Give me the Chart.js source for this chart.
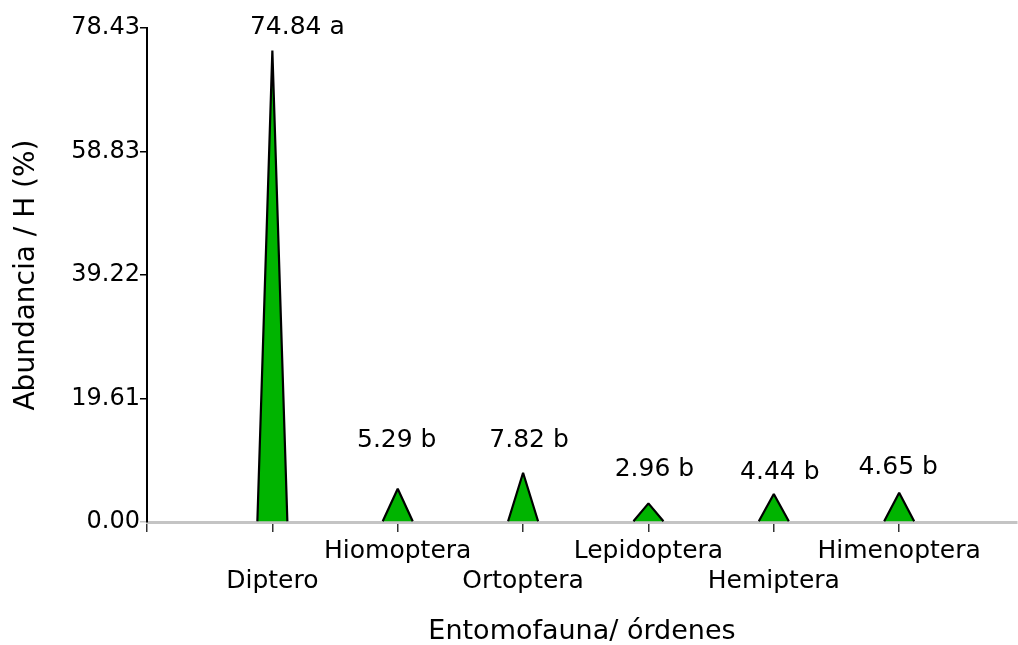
<!DOCTYPE html>
<html>
<head>
<meta charset="utf-8">
<script src="https://cdn.jsdelivr.net/npm/chart.js@4/dist/chart.umd.min.js"></script>
<style>
  html, body { margin: 0; padding: 0; background: #ffffff; }
  #wrap { width: 1018px; height: 645px; position: relative; }
</style>
</head>
<body>
<div id="wrap"><canvas id="chart"></canvas></div>
<script>
// Insect orders and their relative abundance (%)
const orders = ['Diptero', 'Hiomoptera', 'Ortoptera', 'Lepidoptera', 'Hemiptera', 'Himenoptera'];
const abundance = [74.84, 5.29, 7.82, 2.96, 4.44, 4.65];
const groups = ['a', 'b', 'b', 'b', 'b', 'b'];
const yTicks = [0, 19.61, 39.22, 58.83, 78.43];

// Value-label nudges, in pixels (horizontal shift, lift above the peak)
const labelShiftX = [25, -1, 6, 6, 6, -1];
const labelLift = [23, 48, 32, 34, 22, 25];

const FONT = 'DejaVu Sans';
const INK = '#000000';

// Draws each bar as a green triangle rising from the base to the value
const trianglePeaks = {
  id: 'trianglePeaks',
  afterDatasetsDraw(chart) {
    const ctx = chart.ctx;
    const meta = chart.getDatasetMeta(0);
    ctx.save();
    meta.data.forEach((bar) => {
      const p = bar.getProps(['x', 'y', 'base', 'width'], true);
      const half = p.width / 2;
      ctx.beginPath();
      ctx.moveTo(p.x - half, p.base);
      ctx.lineTo(p.x, p.y);
      ctx.lineTo(p.x + half, p.base);
      ctx.closePath();
      ctx.fillStyle = '#00b400';
      ctx.fill();
      ctx.beginPath();
      ctx.moveTo(p.x - half, p.base);
      ctx.lineTo(p.x, p.y);
      ctx.lineTo(p.x + half, p.base);
      ctx.lineWidth = 2.2;
      ctx.lineJoin = 'bevel';
      ctx.strokeStyle = '#000000';
      ctx.stroke();
    });
    ctx.restore();
  }
};

// Writes "value group" above each peak
const peakLabels = {
  id: 'peakLabels',
  afterDraw(chart) {
    const ctx = chart.ctx;
    const meta = chart.getDatasetMeta(0);
    ctx.save();
    ctx.font = '25px "' + FONT + '"';
    ctx.fillStyle = INK;
    ctx.textAlign = 'center';
    ctx.textBaseline = 'middle';
    meta.data.forEach((bar, i) => {
      const p = bar.getProps(['x', 'y'], true);
      ctx.fillText(abundance[i].toFixed(2) + ' ' + groups[i], p.x + labelShiftX[i], p.y - labelLift[i]);
    });
    ctx.restore();
  }
};

new Chart(document.getElementById('chart'), {
  type: 'bar',
  data: {
    datasets: [{
      data: abundance.map((v, i) => ({ x: i + 1, y: v })),
      backgroundColor: 'rgba(0,0,0,0)',
      borderWidth: 0,
      barThickness: 30
    }]
  },
  options: {
    responsive: true,
    maintainAspectRatio: false,
    animation: false,
    events: [],
    layout: { padding: { top: 28, right: 1, left: 0, bottom: 0 } },
    plugins: {
      legend: { display: false },
      tooltip: { enabled: false }
    },
    scales: {
      x: {
        type: 'linear',
        min: 0,
        max: 6.94,
        offset: false,
        afterBuildTicks(scale) {
          scale.ticks = [0, 1, 2, 3, 4, 5, 6].map(v => ({ value: v }));
        },
        afterFit(scale) { scale.height = 123; },
        grid: {
          offset: false,
          drawOnChartArea: false,
          drawTicks: true,
          tickLength: 10,
          color: '#333333',
          lineWidth: 1.5
        },
        border: { display: true, color: '#c4c4c4', width: 3 },
        ticks: {
          autoSkip: false,
          maxRotation: 0,
          minRotation: 0,
          padding: 4,
          color: INK,
          font: { family: FONT, size: 25, lineHeight: 1.2 },
          callback(value) {
            const i = Math.round(value) - 1;
            if (i < 0 || i >= orders.length) return '';
            // alternate rows so neighbouring names do not collide
            return i % 2 === 0 ? ['', orders[i]] : [orders[i]];
          }
        },
        title: {
          display: true,
          text: 'Entomofauna/ órdenes',
          color: INK,
          font: { family: FONT, size: 27, lineHeight: 1 },
          padding: { top: 0, bottom: 0 }
        }
      },
      y: {
        type: 'linear',
        min: 0,
        max: 78.43,
        afterBuildTicks(scale) {
          scale.ticks = yTicks.map(v => ({ value: v }));
        },
        afterFit(scale) { scale.width = 147; },
        grid: {
          drawOnChartArea: false,
          drawTicks: true,
          tickLength: 7,
          color: (c) => (c.tick && c.tick.value === 0 ? '#c4c4c4' : '#000000'),
          lineWidth: 1.5
        },
        border: { display: true, color: '#000000', width: 2 },
        ticks: {
          padding: 0,
          color: INK,
          font: { family: FONT, size: 24 },
          callback(value) { return Number(value).toFixed(2); }
        },
        title: {
          display: true,
          text: 'Abundancia / H (%)',
          color: INK,
          font: { family: FONT, size: 28, lineHeight: 1 },
          padding: { top: 13, bottom: 0 }
        }
      }
    }
  },
  plugins: [trianglePeaks, peakLabels]
});
</script>
</body>
</html>
